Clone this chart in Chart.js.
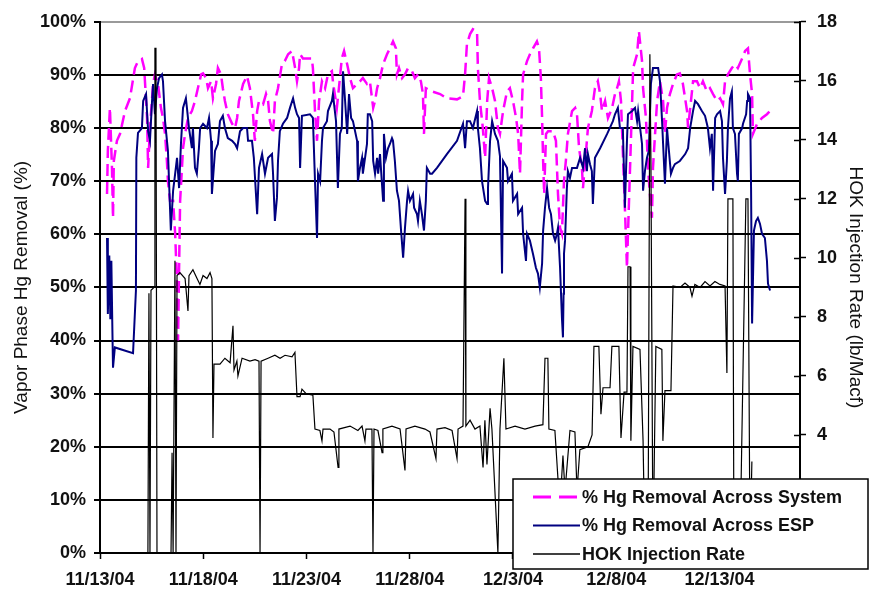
<!DOCTYPE html>
<html>
<head>
<meta charset="utf-8">
<script src="https://cdn.jsdelivr.net/npm/chart.js@4.4.0/dist/chart.umd.min.js"></script>
<style>
  html, body { margin: 0; padding: 0; background: #fff; }
  #wrap { width: 872px; height: 590px; }
</style>
</head>
<body>
<div id="wrap"><canvas id="hgChart" width="872" height="590"></canvas></div>
<script>
// x values are days after 11/13/04
const tickLabels = ["11/13/04", "11/18/04", "11/23/04", "11/28/04", "12/3/04", "12/8/04", "12/13/04"];
const seriesNames = ["% Hg Removal Across System", "% Hg Removal Across ESP", "HOK Injection Rate"];

const systemDays = [
  0.34,0.38,0.48,0.58,0.63,0.67,0.82,0.97,1.21,1.45,
  1.69,1.84,2.03,2.14,2.28,2.33,2.42,2.57,2.66,2.81,
  2.95,3.05,3.15,3.24,3.29,3.39,3.54,3.64,3.73,3.78,
  3.83,3.88,3.97,4.02,4.12,4.26,4.45,4.60,4.74,4.90,
  4.99,5.14,5.23,5.38,5.47,5.62,5.71,5.86,5.95,6.05,
  6.19,6.40,6.54,6.64,6.73,6.93,7.12,7.26,7.41,7.50,
  7.61,7.70,7.90,8.04,8.14,8.23,8.38,8.47,8.62,8.81,
  8.95,9.11,9.30,9.45,9.54,9.64,9.69,9.83,10.26,10.31,
  10.42,10.51,10.61,10.75,10.90,11.04,11.23,11.28,11.47,11.57,
  11.71,11.82,11.97,12.11,12.25,12.45,12.59,12.73,12.93,13.07,
  13.23,13.32,13.42,13.56,13.71,13.90,14.04,14.19,14.33,14.38,
  14.48,14.63,14.77,14.92,15.11,15.25,15.40,15.54,15.64,15.69,
  15.78,16.08,16.47,16.80,17.29,17.58,17.68,17.77,17.92,18.06,
  18.26,18.30,18.40,18.54,18.65,18.75,18.84,18.99,19.13,19.27,
  19.37,19.52,19.71,19.85,20.00,20.15,20.25,20.34,20.44,20.49,
  20.68,20.82,20.97,21.16,21.26,21.35,21.41,21.46,21.51,21.60,
  21.70,21.94,22.08,22.18,22.28,22.37,22.47,22.56,22.66,22.86,
  23.01,23.10,23.20,23.34,23.39,23.54,23.63,23.82,23.97,24.11,
  24.22,24.31,24.46,24.60,24.80,24.94,25.04,25.13,25.23,25.32,
  25.42,25.52,25.57,25.67,25.77,25.82,26.01,26.10,26.25,26.30,
  26.44,26.54,26.63,26.73,26.78,26.98,27.12,27.27,27.36,27.46,
  27.60,27.75,27.94,28.08,28.23,28.43,28.48,28.62,28.72,28.91,
  29.06,29.20,29.39,29.54,29.69,29.88,30.03,30.17,30.27,30.41,
  30.60,30.75,30.89,31.10,31.24,31.38,31.48,31.58,31.62,31.82,
  32.06,32.30,32.45
];
const systemRemoval = [
  67.6,75.7,83.8,72.5,63.1,73.8,77.6,78.9,83.2,85.6,
  91.3,92.6,93.0,91.3,81.9,72.5,80.0,88.3,90.1,88.3,
  83.8,81.9,78.9,73.8,70.0,66.3,66.3,60.1,50.7,40.0,
  53.7,66.3,72.5,76.2,78.9,81.9,83.2,85.1,87.5,90.1,
  90.3,89.4,87.5,88.8,85.6,88.3,91.3,90.1,87.5,85.1,
  82.6,80.8,80.0,81.9,85.1,88.3,89.8,87.5,82.6,77.6,
  83.2,85.1,84.5,86.4,85.1,81.3,78.9,85.1,87.5,92.0,
  92.6,93.9,94.5,91.3,88.8,91.3,93.9,93.1,93.1,91.3,
  82.6,77.6,85.1,88.8,87.5,90.1,90.7,88.8,83.8,87.5,
  93.1,94.5,92.0,89.4,87.5,88.3,88.8,89.4,88.3,88.8,
  83.8,85.1,87.5,89.4,92.0,93.9,95.0,96.3,95.0,90.1,
  91.3,89.4,90.1,91.3,90.7,89.4,90.1,88.8,86.4,78.9,
  87.5,86.9,86.4,85.6,85.4,86.0,90.1,95.8,97.7,98.6,
  98.2,91.3,85.1,80.0,74.4,85.1,89.4,87.5,85.1,80.0,
  78.9,83.2,86.9,87.5,85.1,81.9,78.9,71.4,85.1,90.1,
  92.6,93.9,95.0,96.3,95.0,89.4,81.9,73.8,67.6,78.9,
  79.4,79.4,77.6,67.6,61.2,60.1,70.0,73.8,78.9,83.2,
  83.8,82.6,76.2,72.5,68.7,75.7,80.0,83.2,87.5,88.8,
  86.4,83.2,85.1,81.9,83.8,86.4,87.5,88.8,85.1,75.7,
  65.0,53.7,60.1,72.5,85.1,91.3,93.9,98.2,92.6,87.5,
  81.9,72.5,67.6,63.1,72.5,85.1,88.8,85.1,78.9,83.8,
  86.4,88.3,90.1,90.3,88.3,83.2,80.0,85.1,88.8,88.8,
  87.5,88.8,86.9,87.5,86.4,85.1,85.6,84.5,88.8,90.1,
  91.3,92.0,91.3,93.1,94.5,95.0,90.1,86.4,78.9,80.8,
  81.9,82.6,83.2
];

const espDays = [
  0.34,0.38,0.45,0.50,0.55,0.60,0.63,0.72,1.60,1.74,
  1.76,1.84,2.03,2.09,2.23,2.33,2.42,2.52,2.57,2.66,
  2.76,2.86,3.00,3.05,3.15,3.29,3.43,3.54,3.64,3.73,
  3.83,3.92,4.02,4.16,4.21,4.31,4.45,4.50,4.60,4.69,
  4.79,4.85,4.99,5.18,5.28,5.38,5.42,5.57,5.71,5.81,
  5.95,6.05,6.19,6.40,6.54,6.64,6.78,6.93,7.12,7.17,
  7.36,7.45,7.61,7.70,7.85,7.99,8.14,8.33,8.38,8.47,
  8.57,8.62,8.71,8.86,9.06,9.20,9.35,9.45,9.54,9.64,
  9.69,9.78,10.17,10.31,10.42,10.51,10.56,10.66,10.75,10.80,
  10.99,11.04,11.23,11.28,11.43,11.52,11.62,11.71,11.77,11.87,
  11.97,12.06,12.16,12.25,12.45,12.49,12.59,12.69,12.73,12.93,
  12.97,13.07,13.18,13.23,13.32,13.42,13.47,13.56,13.71,13.75,
  13.85,13.95,14.04,14.14,14.19,14.28,14.38,14.48,14.58,14.68,
  14.77,14.87,14.92,15.01,15.16,15.21,15.35,15.40,15.49,15.59,
  15.69,15.78,15.83,15.99,16.08,16.32,16.80,17.29,17.58,17.68,
  17.77,17.92,18.06,18.26,18.30,18.40,18.50,18.65,18.75,18.79,
  18.89,18.99,19.03,19.13,19.27,19.37,19.47,19.52,19.71,19.76,
  19.95,20.00,20.20,20.25,20.44,20.49,20.63,20.68,20.82,20.97,
  21.11,21.21,21.30,21.41,21.46,21.55,21.65,21.75,21.84,21.94,
  22.04,22.13,22.18,22.28,22.37,22.42,22.45,22.47,22.52,22.61,
  22.66,22.76,22.86,23.10,23.25,23.39,23.49,23.58,23.63,23.73,
  23.82,23.87,23.97,24.22,24.56,24.84,24.94,25.08,25.18,25.32,
  25.42,25.52,25.57,25.77,25.91,26.01,26.06,26.25,26.30,26.39,
  26.49,26.58,26.68,26.78,27.03,27.12,27.22,27.27,27.36,27.46,
  27.51,27.65,27.75,27.84,28.08,28.34,28.48,28.58,28.72,28.82,
  28.96,29.15,29.30,29.44,29.54,29.63,29.69,29.79,29.88,30.03,
  30.12,30.17,30.27,30.36,30.41,30.51,30.60,30.65,30.75,30.85,
  30.89,30.94,31.10,31.14,31.29,31.34,31.38,31.48,31.53,31.58,
  31.67,31.77,31.86,31.96,32.06,32.20,32.30,32.35,32.45
];
const espRemoval = [
  59.3,45.0,56.0,44.0,55.0,42.0,34.9,38.7,37.6,49.4,
  74.4,79.1,80.0,85.1,86.4,79.4,77.6,85.1,88.3,82.6,
  87.5,89.4,90.1,88.8,81.3,75.7,60.7,68.2,71.4,74.4,
  68.7,77.0,83.8,85.6,83.8,80.0,76.2,80.0,72.5,71.4,
  76.2,80.0,80.8,80.0,81.9,77.6,67.6,75.7,77.0,81.3,
  82.3,80.0,78.1,77.6,77.0,76.2,79.4,80.0,80.0,77.6,
  77.6,74.4,63.8,72.5,75.1,71.4,74.4,75.1,71.4,62.5,
  66.9,73.8,79.4,80.8,81.9,83.8,85.6,83.8,82.6,81.9,
  72.5,82.3,82.6,81.9,69.1,59.3,71.4,70.0,77.6,80.0,
  81.3,83.2,85.1,86.4,81.3,68.7,78.9,80.0,90.7,85.1,
  78.9,86.4,81.9,81.3,77.6,70.0,72.5,74.4,71.4,77.0,
  82.6,82.6,81.3,73.8,71.4,74.4,71.4,75.1,66.3,78.9,
  74.4,76.2,77.0,78.1,77.6,73.8,68.2,66.3,60.7,55.6,
  61.2,66.3,68.2,66.3,67.6,65.0,63.8,62.5,66.3,63.8,
  60.7,66.3,72.5,71.4,71.4,72.5,75.1,77.6,80.8,76.2,
  81.3,81.3,80.0,83.2,80.0,76.2,70.0,66.3,65.7,68.7,
  77.6,81.3,81.3,78.9,77.6,74.7,52.6,73.8,72.5,70.0,
  71.4,66.3,67.6,63.8,65.0,60.1,55.0,60.1,58.8,56.3,
  53.7,52.6,50.0,54.5,60.7,65.0,68.7,65.0,63.8,60.1,
  58.8,60.1,61.2,53.7,44.3,40.6,48.8,56.3,58.8,68.7,
  71.9,70.6,72.5,72.5,74.4,72.5,76.2,71.9,75.1,73.2,
  71.9,65.7,74.4,76.2,78.9,81.3,82.6,83.8,80.0,80.0,
  65.0,77.6,82.6,83.2,83.8,81.3,83.2,77.0,68.2,71.9,
  74.4,75.7,88.3,91.3,91.3,88.8,81.3,77.0,69.5,80.0,
  77.6,71.4,72.5,73.2,73.8,75.1,76.2,80.0,83.2,85.1,
  84.5,83.2,82.3,80.0,76.2,78.9,68.2,81.9,82.6,83.2,
  81.3,74.4,67.6,73.8,80.0,85.6,86.9,80.0,78.9,71.4,
  70.0,78.9,80.0,80.8,82.6,85.1,86.4,85.6,68.7,43.2,
  60.7,62.5,63.1,62.0,60.1,59.3,55.0,50.7,49.4
];

const hokDays = [
  2.32,2.37,2.42,2.47,2.62,2.66,2.71,2.76,2.86,3.44,
  3.49,3.54,3.63,3.68,3.73,3.87,4.12,4.26,4.31,4.50,
  4.70,4.84,4.99,5.18,5.33,5.42,5.47,5.52,5.81,6.05,
  6.30,6.44,6.49,6.63,6.68,6.88,7.26,7.51,7.70,7.75,
  7.80,8.14,8.47,8.72,8.96,9.30,9.44,9.54,9.69,9.78,
  9.98,10.31,10.41,10.65,10.75,10.80,11.14,11.33,11.53,11.57,
  12.11,12.49,12.69,12.83,12.88,13.17,13.22,13.27,13.46,13.66,
  13.70,14.14,14.53,14.77,14.82,15.25,15.74,15.98,16.27,16.32,
  16.71,17.05,17.29,17.34,17.58,17.68,17.72,17.92,18.16,18.40,
  18.55,18.64,18.74,18.89,18.98,19.27,19.37,19.56,19.66,20.10,
  20.58,21.07,21.45,21.55,21.69,21.74,22.03,22.18,22.32,22.42,
  22.52,22.76,23.00,23.10,23.24,23.63,23.83,23.92,24.16,24.26,
  24.36,24.70,24.79,25.13,25.23,25.38,25.52,25.57,25.67,25.71,
  25.81,26.15,26.30,26.39,26.54,26.63,26.68,26.78,26.92,27.21,
  27.26,27.36,27.65,27.75,28.09,28.33,28.57,28.67,28.81,29.06,
  29.30,29.54,29.78,30.02,30.27,30.36,30.41,30.65,30.70,30.99,
  31.28,31.38,31.48,31.57
];
const hokRate = [
  0,8.8,0,8.9,9.0,17.1,17.1,0,0,0,
  3.4,0,9.9,0,9.4,9.5,9.3,8.2,9.4,9.6,
  9.3,9.1,9.4,9.3,9.5,9.3,3.9,6.4,6.4,6.6,
  6.45,7.7,6.2,6.5,6.0,6.6,6.5,6.55,6.5,0,
  6.5,6.6,6.7,6.6,6.7,6.65,6.8,5.3,5.3,5.55,
  5.4,5.35,4.2,4.15,3.8,4.2,4.2,4.1,2.9,4.2,
  4.3,4.15,4.3,3.8,4.2,4.2,0,4.2,4.15,3.4,
  4.2,4.3,4.2,2.8,4.2,4.3,4.2,4.1,3.2,4.2,
  4.25,4.15,3.2,4.2,4.3,12.0,4.3,4.5,4.2,4.3,
  2.9,4.5,3.0,4.9,4.2,0,4.2,6.6,4.2,4.3,
  4.2,4.3,4.35,6.6,6.6,4.2,4.15,2.5,2.1,3.3,
  2.1,4.15,4.1,2.1,3.5,3.6,4.0,7.0,7.0,4.7,
  5.6,5.6,7.0,7.0,3.9,5.45,5.45,9.7,9.7,3.8,
  7.0,6.9,3.8,0,0,16.9,13.3,0,7.0,6.9,
  3.8,5.5,5.5,9.05,9.0,9.15,9.0,8.7,9.1,9.0,
  9.2,9.05,9.2,9.1,9.05,6.1,12.0,12.0,0,0,
  12.0,12.0,0,3.1
];

function pairs(xs, ys) {
  return xs.map((x, i) => ({ x: x, y: ys[i] }));
}

const FONT = "'Liberation Sans', Arial, sans-serif";
const legendStyles = [
  { color: '#FF00FF', width: 3, dash: [18, 8] },
  { color: '#000080', width: 2, dash: [] },
  { color: '#000000', width: 1.5, dash: [] }
];

// boxed legend in the lower right, drawn over the plot like the original
const boxLegend = {
  id: 'boxLegend',
  afterDraw(chart) {
    const ctx = chart.ctx;
    const bx = 513, by = 479, bw = 355, bh = 90;
    ctx.save();
    ctx.fillStyle = '#fff';
    ctx.fillRect(bx, by, bw, bh);
    ctx.strokeStyle = '#000';
    ctx.lineWidth = 1.5;
    ctx.strokeRect(bx, by, bw, bh);
    ctx.font = 'bold 18px ' + FONT;
    ctx.textBaseline = 'middle';
    ctx.fillStyle = '#111';
    seriesNames.forEach((name, i) => {
      const y = by + 18 + i * 28.5;
      const st = legendStyles[i];
      ctx.beginPath();
      ctx.strokeStyle = st.color;
      ctx.lineWidth = st.width;
      ctx.setLineDash(st.dash);
      ctx.moveTo(bx + 20, y);
      ctx.lineTo(bx + 67, y);
      ctx.stroke();
      ctx.setLineDash([]);
      ctx.fillText(name, bx + 69, y + 1);
    });
    ctx.restore();
  }
};

// right axis tick marks cross the axis line
const crossTicks = {
  id: 'crossTicks',
  afterDatasetsDraw(chart) {
    const s = chart.scales.y1;
    const ctx = chart.ctx;
    ctx.save();
    ctx.strokeStyle = '#000';
    ctx.lineWidth = 1.5;
    s.ticks.forEach(t => {
      const y = Math.round(s.getPixelForValue(t.value)) + 0.5;
      ctx.beginPath();
      ctx.moveTo(s.left - 6, y);
      ctx.lineTo(s.left, y);
      ctx.stroke();
    });
    ctx.restore();
  }
};

const ctxEl = document.getElementById('hgChart');
new Chart(ctxEl, {
  type: 'line',
  data: {
    datasets: [
      {
        label: seriesNames[0],
        data: pairs(systemDays, systemRemoval),
        borderColor: '#FF00FF',
        borderWidth: 2.5,
        borderDash: [12, 6],
        pointRadius: 0,
        yAxisID: 'y',
        order: 2
      },
      {
        label: seriesNames[1],
        data: pairs(espDays, espRemoval),
        borderColor: '#000080',
        borderWidth: 2,
        pointRadius: 0,
        yAxisID: 'y',
        order: 1
      },
      {
        label: seriesNames[2],
        data: pairs(hokDays, hokRate),
        borderColor: '#000000',
        borderWidth: 1.2,
        pointRadius: 0,
        yAxisID: 'y1',
        order: 0
      }
    ]
  },
  options: {
    responsive: false,
    animation: false,
    layout: { padding: { top: 20, left: 0, right: 0, bottom: 0 } },
    plugins: {
      legend: { display: false },
      tooltip: { enabled: false }
    },
    scales: {
      x: {
        type: 'linear',
        min: 0,
        max: 33.9,
        afterBuildTicks: s => { s.ticks = tickLabels.map((t, i) => ({ value: i * 5 })); },
        afterFit: s => { s.height = 37; },
        ticks: {
          autoSkip: false,
          maxRotation: 0,
          padding: 10,
          color: '#111',
          font: { family: FONT, size: 18, weight: 'bold' },
          callback: v => tickLabels[Math.round(v / 5)]
        },
        grid: { drawOnChartArea: false, color: '#000', tickLength: 6, tickWidth: 1.5 },
        border: { color: '#000', width: 2 }
      },
      y: {
        position: 'left',
        min: 0,
        max: 100,
        afterFit: s => { s.width = 100; },
        ticks: {
          stepSize: 10,
          padding: 8,
          color: '#111',
          font: { family: FONT, size: 18, weight: 'bold' },
          callback: v => v + '%'
        },
        grid: {
          color: c => (c.tick && c.tick.value === 100 ? '#9a9a9a' : '#000'),
          lineWidth: 2,
          tickLength: 6,
          tickColor: '#000',
          tickWidth: 2
        },
        border: { color: '#000', width: 2 },
        title: {
          display: true,
          text: 'Vapor Phase Hg Removal (%)',
          color: '#111',
          font: { family: FONT, size: 19 },
          padding: { top: 10, bottom: 0 }
        }
      },
      y1: {
        position: 'right',
        min: 0,
        max: 18,
        afterFit: s => { s.width = 72; },
        ticks: {
          stepSize: 2,
          padding: 11,
          color: '#111',
          font: { family: FONT, size: 18, weight: 'bold' }
        },
        grid: { drawOnChartArea: false, color: '#000', tickLength: 6, tickWidth: 1.5 },
        border: { color: '#000', width: 2 },
        title: {
          display: true,
          text: 'HOK Injection Rate (lb/Macf)',
          color: '#111',
          font: { family: FONT, size: 19 },
          padding: { top: 5, bottom: 0 }
        }
      }
    }
  },
  plugins: [crossTicks, boxLegend]
});
</script>
</body>
</html>
